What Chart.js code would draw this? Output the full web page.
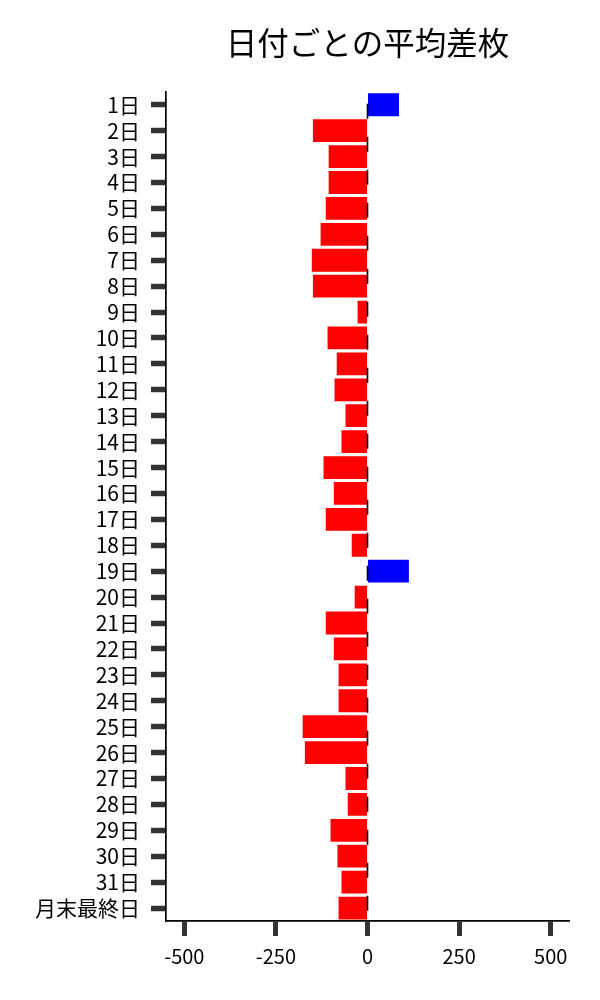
<!DOCTYPE html>
<html>
<head>
<meta charset="utf-8">
<script src="https://cdn.jsdelivr.net/npm/chart.js@4/dist/chart.umd.min.js"></script>
<style>
    html, body
    {
        margin: 0;
        padding: 0;
        background: #ffffff;
    }
    #wrap
    {
        width: 600px;
        height: 1000px;
    }
</style>
</head>
<body>
<div id="wrap"><canvas id="dayChart" width="600" height="1000"></canvas></div>
<script>
"use strict";

var dayLabels = ["1日", "2日", "3日", "4日", "5日", "6日", "7日", "8日", "9日", "10日",
    "11日", "12日", "13日", "14日", "15日", "16日", "17日", "18日", "19日", "20日",
    "21日", "22日", "23日", "24日", "25日", "26日", "27日", "28日", "29日", "30日",
    "31日", "月末最終日"];

var averageDiff = [86, -149, -106, -106, -114, -128, -152, -149, -27, -109,
    -84, -90, -60, -71, -120, -92, -114, -43, 113, -35,
    -114, -92, -79, -79, -177, -171, -60, -54, -101, -82,
    -71, -79];

var xTickValues = [-500, -250, 0, 250, 500];

var chartTitle = "日付ごとの平均差枚";

var fontFamily = "'Noto Sans CJK JP', 'Noto Sans', sans-serif";

var zeroLinePlugin =
{
    id: "zeroLine",
    afterDatasetsDraw: function(chart)
    {
        var ctx = chart.ctx;
        var area = chart.chartArea;
        var x = chart.scales.x.getPixelForValue(0);
        var firstRow = chart.scales.y.getPixelForValue(0);
        var period = 33;
        var lead = (firstRow - 1 - area.top) % period;

        ctx.save();
        ctx.strokeStyle = "#000000";
        ctx.lineWidth = 1.6;
        ctx.setLineDash([15, 18]);
        ctx.lineDashOffset = period - lead;
        ctx.beginPath();
        ctx.moveTo(x, area.top);
        ctx.lineTo(x, area.bottom);
        ctx.stroke();
        ctx.restore();
    }
};

var barColors = averageDiff.map(function(value)
{
    return value >= 0 ? "#0000ff" : "#ff0000";
});

var ctx = document.getElementById("dayChart").getContext("2d");
var chart = new Chart(ctx,
{
    type: "bar",
    data:
    {
        labels: dayLabels,
        datasets: [
        {
            data: averageDiff,
            backgroundColor: barColors,
            borderWidth: 0,
            barPercentage: 0.88,
            categoryPercentage: 1.0,
        }],
    },
    options:
    {
        indexAxis: "y",
        responsive: false,
        animation: false,
        layout:
        {
            padding: { top: 10, right: 31, bottom: 24, left: 24 },
        },
        plugins:
        {
            legend: { display: false },
            tooltip: { enabled: false },
            title:
            {
                display: true,
                text: chartTitle,
                fullSize: false,
                color: "#000000",
                font: { family: fontFamily, size: 31.5, weight: "normal" },
                padding: { top: 14, bottom: 30 },
            },
        },
        scales:
        {
            x:
            {
                type: "linear",
                min: -550,
                max: 550,
                afterBuildTicks: function(scale)
                {
                    scale.ticks = xTickValues.map(function(value)
                    {
                        return { value: value };
                    });
                },
                grid:
                {
                    drawOnChartArea: false,
                    drawTicks: true,
                    tickLength: 15,
                    tickWidth: 5,
                    tickColor: "#333333",
                },
                border: { display: true, color: "#000000", width: 1.7 },
                ticks:
                {
                    color: "#000000",
                    padding: 8,
                    font: { family: fontFamily, size: 20 },
                },
            },
            y:
            {
                type: "category",
                offset: true,
                grid:
                {
                    offset: false,
                    drawOnChartArea: false,
                    drawTicks: true,
                    tickLength: 15,
                    tickWidth: 5.5,
                    tickColor: "#333333",
                },
                border: { display: true, color: "#000000", width: 1.7 },
                ticks:
                {
                    color: "#000000",
                    padding: 11,
                    autoSkip: false,
                    font: { family: fontFamily, size: 21 },
                },
            },
        },
    },
    plugins: [zeroLinePlugin],
});
</script>
</body>
</html>
